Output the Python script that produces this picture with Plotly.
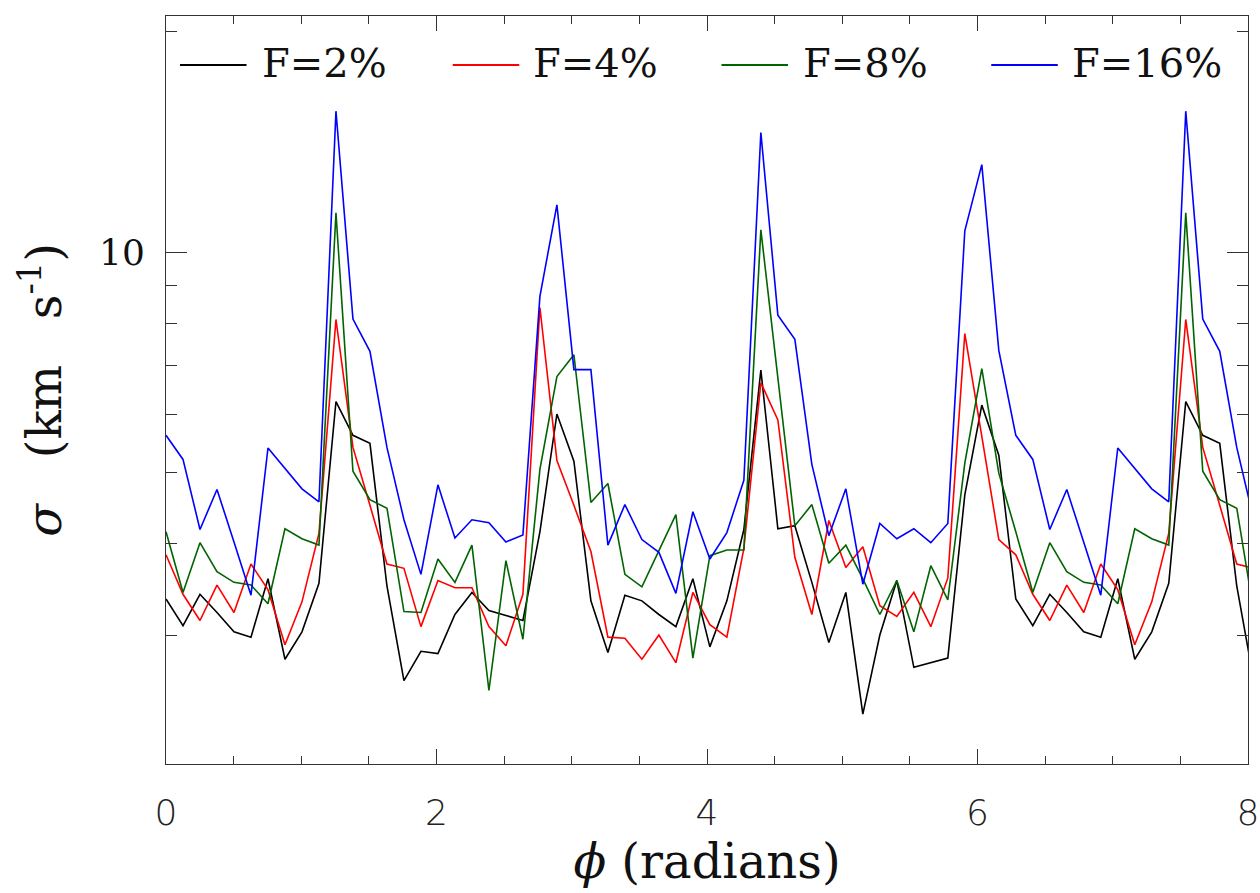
import numpy as np
import plotly.graph_objects as go

# Velocity dispersion sigma (km/s) sampled every 2*pi/50 rad in phi, 0..8 rad
phi = np.arange(65) * 2 * np.pi / 50

sigma_f2 = [3.36, 3.09, 3.41, 3.22, 3.03, 2.98, 3.58, 2.78, 3.03, 3.53,
            6.25, 5.62, 5.48, 3.50, 2.60, 2.85, 2.83, 3.20, 3.43, 3.24,
            3.19, 3.14, 4.15, 6.01, 5.18, 3.34, 2.84, 3.40, 3.34, 3.20,
            3.08, 3.58, 2.89, 3.34, 4.18, 6.90, 4.19, 4.23, 3.54, 2.93,
            3.43, 2.34, 3.00, 3.56, 2.71, 2.75, 2.79, 4.66, 6.18, 5.28,
            3.36, 3.09, 3.41, 3.22, 3.03, 2.98, 3.58, 2.78, 3.03, 3.53,
            6.25, 5.62, 5.48, 3.50, 2.60]

sigma_f4 = [3.86, 3.41, 3.14, 3.51, 3.22, 3.75, 3.46, 2.91, 3.33, 4.13,
            8.09, 5.41, 4.51, 3.75, 3.70, 3.08, 3.56, 3.48, 3.48, 3.08,
            2.90, 3.41, 8.40, 5.19, 4.51, 3.90, 2.98, 2.97, 2.78, 3.00,
            2.75, 3.43, 3.10, 2.98, 3.94, 6.63, 5.90, 3.83, 3.20, 4.30,
            3.71, 3.96, 3.29, 3.18, 3.43, 3.08, 3.59, 7.74, 5.60, 4.05,
            3.86, 3.41, 3.14, 3.51, 3.22, 3.75, 3.46, 2.91, 3.33, 4.13,
            8.09, 5.41, 4.51, 3.75, 3.70]

sigma_f8 = [4.15, 3.43, 4.01, 3.66, 3.54, 3.51, 3.31, 4.19, 4.06, 3.98,
            11.31, 5.02, 4.59, 4.47, 3.23, 3.22, 3.81, 3.54, 3.98, 2.52,
            3.79, 2.96, 5.05, 6.76, 7.24, 4.55, 4.83, 3.63, 3.49, 3.91,
            4.38, 2.79, 3.85, 3.92, 3.92, 10.72, 6.74, 4.23, 4.52, 3.76,
            3.98, 3.58, 3.20, 3.56, 3.03, 3.73, 3.35, 5.15, 6.93, 4.99,
            4.15, 3.43, 4.01, 3.66, 3.54, 3.51, 3.31, 4.19, 4.06, 3.98,
            11.31, 5.02, 4.59, 4.47, 3.23]

sigma_f16 = [5.62, 5.21, 4.18, 4.74, 4.02, 3.40, 5.40, 5.06, 4.75, 4.56,
             15.57, 8.10, 7.32, 5.41, 4.31, 3.63, 4.81, 4.07, 4.31, 4.27,
             4.02, 4.11, 8.70, 11.60, 6.91, 6.91, 3.98, 4.52, 4.05, 3.89,
             3.42, 4.42, 3.81, 4.14, 4.88, 14.56, 8.20, 7.60, 5.13, 4.10,
             4.75, 3.52, 4.26, 4.06, 4.19, 4.01, 4.26, 10.69, 13.16, 7.34,
             5.62, 5.21, 4.18, 4.74, 4.02, 3.40, 5.40, 5.06, 4.75, 4.56,
             15.57, 8.10, 7.32, 5.41, 4.31]

series_names = ["F=2%", "F=4%", "F=8%", "F=16%"]
series_colors = ["#000000", "#ff0000", "#006400", "#0000ff"]
series_values = [sigma_f2, sigma_f4, sigma_f8, sigma_f16]

y_major = [10]
y_minor = [3, 4, 5, 6, 7, 8, 9, 20]
x_major = [0, 2, 4, 6, 8]
x_minor = [0.5, 1, 1.5, 2.5, 3, 3.5, 4.5, 5, 5.5, 6.5, 7, 7.5]

serif = "DejaVu Serif"
axis_color = "#333"

# legend row along the top of the frame (paper fractions of the plot area)
legend_line_x0 = [0.0129, 0.2650, 0.5134, 0.7627]
legend_line_len = 0.0615
legend_text_x = [0.0870, 0.3373, 0.5866, 0.8359]
legend_y = 0.9345
legend_text_y = 0.9375

fig = go.Figure()
for name, color, vals in zip(series_names, series_colors, series_values):
    fig.add_trace(go.Scatter(
        x=phi, y=vals, name=name, mode="lines",
        line=dict(color=color, width=1.6), showlegend=False,
    ))

for name, color, lx, tx in zip(series_names, series_colors, legend_line_x0, legend_text_x):
    fig.add_shape(type="line", xref="paper", yref="paper",
                  x0=lx, x1=lx + legend_line_len, y0=legend_y, y1=legend_y,
                  line=dict(color=color, width=1.8))
    fig.add_annotation(text=name, xref="paper", yref="paper", x=tx, y=legend_text_y,
                       xanchor="left", yanchor="middle", showarrow=False,
                       font=dict(family=serif, size=40, color="#111"))

fig.update_layout(
    width=1260, height=893,
    margin=dict(l=166, r=12, t=16, b=129, autoexpand=False),
    paper_bgcolor="white", plot_bgcolor="white",
    showlegend=False,
)

fig.update_xaxes(
    range=[0, 8], showgrid=False, zeroline=False, automargin=False,
    showline=True, linecolor=axis_color, linewidth=1, mirror="allticks",
    ticks="inside", ticklen=15, tickwidth=1, tickcolor=axis_color,
    tickvals=x_major, ticklabeloverflow="allow",
    tickfont=dict(family="DejaVu Sans", size=36, color="#222", weight=200),
    ticklabelstandoff=17,
    minor=dict(tickvals=x_minor, ticks="inside", ticklen=8, tickwidth=1,
               tickcolor=axis_color),
    title=dict(text="<i>ϕ</i> (radians)",
               font=dict(family=serif, size=48, color="#111"), standoff=2),
)

fig.update_yaxes(
    type="log", range=[np.log10(2), np.log10(21)],
    showgrid=False, zeroline=False, automargin=False,
    showline=True, linecolor=axis_color, linewidth=1, mirror="allticks",
    ticks="inside", ticklen=21, tickwidth=1, tickcolor=axis_color,
    tickvals=y_major, ticktext=["10"],
    tickfont=dict(family=serif, size=36, color="#111"),
    ticklabelstandoff=13,
    minor=dict(tickvals=y_minor, ticks="inside", ticklen=11, tickwidth=1,
               tickcolor=axis_color),
    title=dict(text="<i>σ</i>\u00a0\u00a0\u00a0(km\u00a0\u00a0\u00a0s<sup>-1</sup>)",
               font=dict(family=serif, size=48, color="#111"), standoff=22),
)

fig.write_html("out.html")
